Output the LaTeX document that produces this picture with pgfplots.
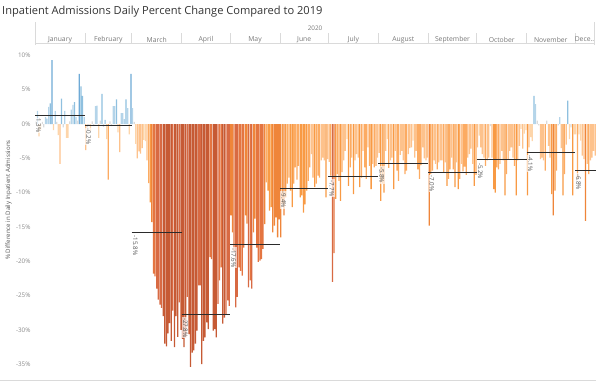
\documentclass[border=0pt]{standalone}
\usepackage{pgfplots}
\pgfplotsset{compat=1.18}
\usepackage{pgfplotstable}
\usepackage{fontspec}
\setmainfont{Open Sans}
\definecolor{posC}{HTML}{6EAAD6}
\definecolor{posB}{HTML}{8FC0DF}
\definecolor{posA}{HTML}{B4D4E9}
\definecolor{neu}{HTML}{DADADA}
\definecolor{nA}{HTML}{FDD5AA}
\definecolor{nB}{HTML}{FDC28C}
\definecolor{nC}{HTML}{FCAB62}
\definecolor{nD}{HTML}{F89A44}
\definecolor{nE}{HTML}{EF853A}
\definecolor{nF}{HTML}{E47541}
\definecolor{nG}{HTML}{D86A43}
\definecolor{nH}{HTML}{C65A34}
\definecolor{meanline}{HTML}{2B2B2B}
\definecolor{lbl}{HTML}{555555}
\definecolor{tickgray}{HTML}{8A8A8A}
\definecolor{hdr}{HTML}{DADADA}
\definecolor{hdrtxt}{HTML}{777777}
\definecolor{titlec}{HTML}{333333}

% day index (0 = 1 Jan 2020), percent difference vs 2019
\pgfplotstableread{
d v
0 0.4
1 1.9
2 -1.8
3 -0.8
4 0.3
5 -0.5
6 1.0
7 0.8
8 2.5
9 3.0
10 9.3
11 -0.9
12 1.9
13 0.3
14 -1.6
15 -5.8
16 3.7
17 -0.5
18 1.9
19 -2.0
20 -2.0
21 0.4
22 2.1
23 2.8
24 3.2
25 1.0
26 0.5
27 7.3
28 5.5
29 4.1
30 1.0
31 -3.8
32 -0.5
33 -0.2
34 -1.0
35 0.4
36 -0.3
37 2.6
38 2.7
39 -2.0
40 0.5
41 4.4
42 -0.4
43 0.6
44 -2.2
45 -8.1
46 0.4
47 -0.3
48 2.6
49 2.6
50 3.6
51 -1.2
52 -4.1
53 1.6
54 1.6
55 0.7
56 3.6
57 2.3
58 -1.5
59 7.3
60 2.3
61 0.3
62 -2.9
63 -5.0
64 -4.0
65 -4.3
66 -3.5
67 -2.3
68 -2.5
69 -5.3
70 -8.6
71 -11.4
72 -14.3
73 -21.8
74 -22.2
75 -24.0
76 -25.6
77 -26.3
78 -26.8
79 -28.0
80 -32.0
81 -32.4
82 -30.5
83 -29.0
84 -31.6
85 -27.2
86 -32.5
87 -28.0
88 -31.0
89 -26.0
90 -30.0
91 -31.3
92 -32.5
93 -31.1
94 -25.2
95 -30.6
96 -35.4
97 -33.3
98 -33.0
99 -32.0
100 -30.1
101 -23.5
102 -23.5
103 -35.0
104 -31.6
105 -31.1
106 -28.9
107 -29.9
108 -19.4
109 -19.7
110 -30.1
111 -29.9
112 -31.1
113 -26.2
114 -22.8
115 -20.9
116 -29.1
117 -28.2
118 -27.7
119 -25.7
120 -26.5
121 -13.3
122 -15.8
123 -18.5
124 -26.7
125 -25.2
126 -20.9
127 -21.4
128 -22.1
129 -18.0
130 -13.3
131 -14.5
132 -23.8
133 -22.8
134 -24.0
135 -15.8
136 -13.8
137 -18.0
138 -20.1
139 -19.9
140 -19.7
141 -18.2
142 -14.6
143 -8.5
144 -9.7
145 -12.6
146 -12.1
147 -15.8
148 -14.8
149 -13.6
150 -16.5
151 -13.9
152 -16.5
153 -11.6
154 -13.3
155 -10.7
156 -8.7
157 -7.8
158 -9.7
159 -12.1
160 -8.7
161 -6.3
162 -8.1
163 -6.1
164 -10.7
165 -10.4
166 -12.9
167 -11.7
168 -9.7
169 -8.3
170 -6.3
171 -4.4
172 -7.8
173 -9.2
174 -8.7
175 -7.5
176 -7.8
177 -5.3
178 -4.9
179 -5.3
180 -10.7
181 -5.1
182 -5.5
183 -7.5
184 -23.0
185 -18.8
186 -10.9
187 -7.3
188 -8.3
189 -11.2
190 -7.0
191 -5.3
192 -3.9
193 -2.2
194 -9.0
195 -6.3
196 -4.9
197 -10.2
198 -5.3
199 -4.4
200 -4.9
201 -9.2
202 -7.8
203 -3.9
204 -6.3
205 -8.0
206 -3.4
207 -6.1
208 -9.5
209 -5.8
210 -6.3
211 -6.1
212 -4.9
213 -4.2
214 -11.2
215 -8.7
216 -10.0
217 -3.9
218 -2.2
219 -6.4
220 -5.3
221 -4.9
222 -9.5
223 -3.9
224 -6.8
225 -8.3
226 -4.5
227 -3.9
228 -5.3
229 -7.3
230 -6.8
231 -4.4
232 -3.5
233 -3.4
234 -2.4
235 -4.9
236 -3.9
237 -6.6
238 -8.0
239 -6.0
240 -3.4
241 -5.0
242 -5.3
243 -4.9
244 -14.8
245 -7.3
246 -6.8
247 -5.3
248 -5.8
249 -6.6
250 -5.6
251 -5.3
252 -5.3
253 -7.1
254 -5.6
255 -9.0
256 -8.0
257 -6.6
258 -4.9
259 -6.6
260 -9.2
261 -5.6
262 -9.5
263 -8.0
264 -5.8
265 -6.9
266 -6.2
267 -7.4
268 -4.9
269 -4.4
270 -3.6
271 -5.8
272 -9.0
273 -7.4
274 -3.4
275 -1.7
276 -3.4
277 -4.4
278 -4.9
279 -6.1
280 -5.3
281 -4.9
282 -0.3
283 -4.9
284 -9.5
285 -10.0
286 -6.3
287 -6.6
288 -5.8
289 -3.9
290 -5.3
291 -10.4
292 -7.3
293 -5.1
294 -3.9
295 -3.4
296 -4.9
297 -6.1
298 -10.4
299 -5.3
300 -3.2
301 -0.7
302 -3.6
303 -1.4
304 -0.9
305 -10.4
306 -3.4
307 -1.9
308 -2.5
309 4.1
310 2.9
311 0.5
312 -0.2
313 -5.1
314 -4.9
315 -5.3
316 -6.8
317 0.5
318 -3.2
319 -4.9
320 -10.2
321 -13.3
322 -9.7
323 -6.8
324 -0.2
325 1.0
326 -3.5
327 -10.4
328 -7.3
329 -3.0
330 3.4
331 -2.2
332 -0.5
333 -10.4
334 -1.5
335 -1.5
336 -8.0
337 -1.5
338 -2.4
339 -4.6
340 -5.1
341 -14.1
342 -5.8
343 -7.3
344 -5.3
345 -4.9
346 -3.9
347 -4.6
}\daily

% monthly averages: start, end (day index), value
\pgfplotstableread{
s e m lab
-0.5 30.5 1.3 1.3\%
30.5 59.5 -0.2 -0.2\%
59.5 90.5 -15.8 -15.8\%
90.5 120.5 -27.8 -27.8\%
120.5 151.5 -17.6 -17.6\%
151.5 181.5 -9.4 -9.4\%
181.5 212.5 -7.7 -7.7\%
212.5 243.5 -5.8 -5.8\%
243.5 273.5 -7.0 -7.0\%
273.5 304.5 -5.2 -5.2\%
304.5 334.5 -4.1 -4.1\%
334.5 347.5 -6.8 -6.8\%
}\monthly

\pgfplotsset{
  daybar/.style={ybar, bar width=0.78, bar shift=0pt, draw=none, fill=#1},
}

\begin{document}
\begin{tikzpicture}[x=1pt,y=1pt]
\path[use as bounding box] (0,0) rectangle (596,384);
\begin{axis}[
  at={(35pt,4pt)}, anchor=south west,
  scale only axis, width=561pt, height=334pt,
  xmin=-0.5, xmax=347.5, ymin=-37.3, ymax=11.37,
  axis line style={draw=none},
  xtick=\empty,
  ytick={-35,-30,...,10},
  yticklabels={-35\%,-30\%,-25\%,-20\%,-15\%,-10\%,-5\%,0\%,5\%,10\%},
  tick style={draw=none},
  yticklabel style={font=\fontsize{6.3}{7}\selectfont, text=tickgray, xshift=-1pt},
]
\addplot[daybar=posC, restrict y to domain=6:100] table[x=d,y=v]{\daily};
\addplot[daybar=posB, restrict y to domain=3:5.95] table[x=d,y=v]{\daily};
\addplot[daybar=posA, restrict y to domain=0.55:2.95] table[x=d,y=v]{\daily};
\addplot[daybar=neu, restrict y to domain=-0.55:0.5] table[x=d,y=v]{\daily};
\addplot[daybar=nA, restrict y to domain=-2.95:-0.6] table[x=d,y=v]{\daily};
\addplot[daybar=nB, restrict y to domain=-5.95:-3] table[x=d,y=v]{\daily};
\addplot[daybar=nC, restrict y to domain=-8.95:-6] table[x=d,y=v]{\daily};
\addplot[daybar=nD, restrict y to domain=-12.95:-9] table[x=d,y=v]{\daily};
\addplot[daybar=nE, restrict y to domain=-17.95:-13] table[x=d,y=v]{\daily};
\addplot[daybar=nF, restrict y to domain=-22.95:-18] table[x=d,y=v]{\daily};
\addplot[daybar=nG, restrict y to domain=-27.95:-23] table[x=d,y=v]{\daily};
\addplot[daybar=nH, restrict y to domain=-100:-28] table[x=d,y=v]{\daily};
% monthly average lines and labels
\pgfplotsforeachungrouped \i in {0,...,11}{
  \pgfplotstablegetelem{\i}{s}\of\monthly \let\ms\pgfplotsretval
  \pgfplotstablegetelem{\i}{e}\of\monthly \let\me\pgfplotsretval
  \pgfplotstablegetelem{\i}{m}\of\monthly \let\mm\pgfplotsretval
  \pgfplotstablegetelem{\i}{lab}\of\monthly \let\ml\pgfplotsretval
  \edef\doit{\noexpand\addplot[meanline, line width=1.1pt, mark=none] coordinates {(\ms,\mm) (\me,\mm)};
    \noexpand\node[rotate=-90, anchor=west, inner sep=0.8pt, fill=white, fill opacity=0.65, text opacity=1, text=lbl, font=\noexpand\fontsize{6.2}{7}\noexpand\selectfont] at (axis cs:\ms+2.2,\mm-0.35) {\ml};}
  \doit
}
\end{axis}
% header
\draw[hdr, line width=0.5pt] (35,339) -- (35,362);
\draw[hdr, line width=0.5pt] (594,339) -- (594,362);
\draw[hdr, line width=0.5pt] (35,340.5) -- (594,340.5);
\foreach \bx in {85.0,131.7,181.7,230.1,280.0,328.4,378.4,428.3,476.7,526.7,575.0}{
  \draw[hdr, line width=0.5pt] (\bx,340.5) -- (\bx,351.5);
}
\node[text=hdrtxt, font=\fontsize{6.3}{7}\selectfont] at (315,355.5) {2020};
\foreach \cx/\mn in {60.0/January,108.3/February,156.7/March,205.9/April,255.0/May,304.2/June,353.4/July,403.3/August,452.5/September,501.7/October,550.8/November,584.5/Dece..}{
  \node[text=hdrtxt, font=\fontsize{6.8}{8}\selectfont] at (\cx,344.5) {\mn};
}
% title
\node[anchor=west, text=titlec, font=\fontsize{11.1}{13}\selectfont, inner sep=0pt] at (2,372) {Inpatient Admissions Daily Percent Change Compared to 2019};
% y label
\node[rotate=90, text=lbl, font=\fontsize{6.1}{7}\selectfont] at (8.5,184) {\% Difference in Daily Inpatient Admissions};
% bottom rule
\draw[hdr, line width=0.6pt] (0,3.3) -- (596,3.3);
\end{tikzpicture}
\end{document}
